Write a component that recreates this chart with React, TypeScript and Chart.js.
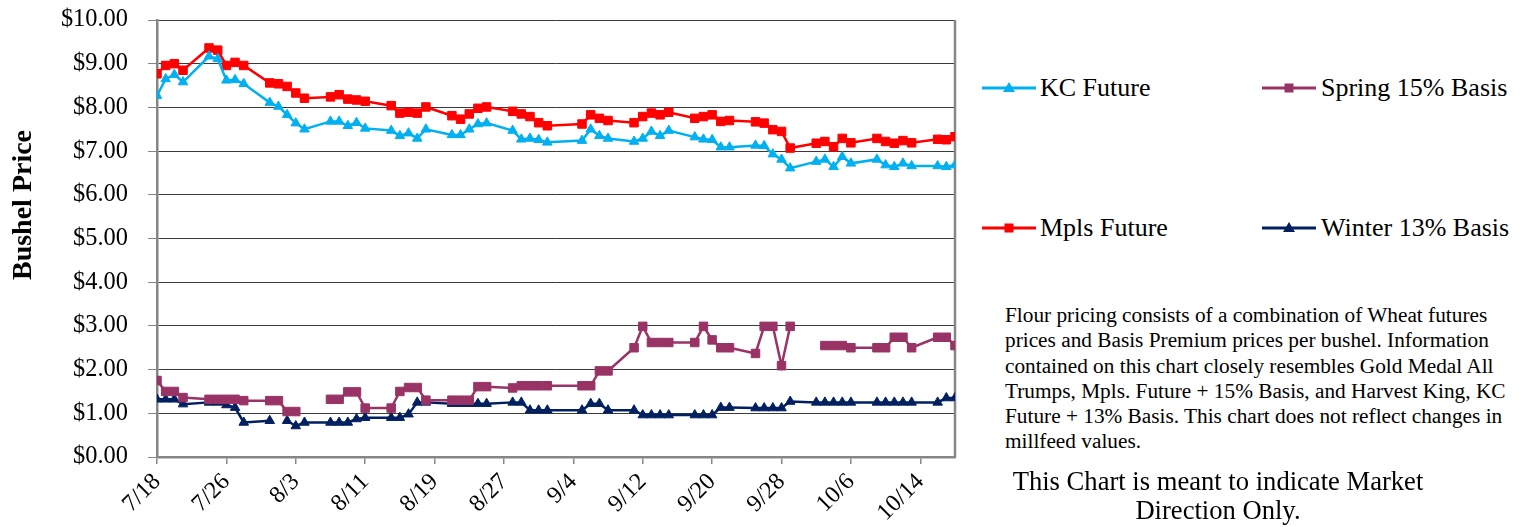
import React, { useEffect, useRef } from 'react';
import { Chart, registerables } from 'chart.js';

Chart.register(...registerables);

// ---------------- DATA ----------------
const YEAR = 2017;
const AXIS_START = '7/18';
const AXIS_END = '10/18';

const tickLabels = ['7/18', '7/26', '8/3', '8/11', '8/19', '8/27', '9/4', '9/12', '9/20', '9/28', '10/6', '10/14'];

const dates = [
  '7/18', '7/19', '7/20', '7/21',
  '7/24', '7/25', '7/26', '7/27', '7/28',
  '7/31', '8/1', '8/2', '8/3', '8/4',
  '8/7', '8/8', '8/9', '8/10', '8/11',
  '8/14', '8/15', '8/16', '8/17', '8/18',
  '8/21', '8/22', '8/23', '8/24', '8/25',
  '8/28', '8/29', '8/30', '8/31', '9/1',
  '9/5', '9/6', '9/7', '9/8',
  '9/11', '9/12', '9/13', '9/14', '9/15',
  '9/18', '9/19', '9/20', '9/21', '9/22',
  '9/25', '9/26', '9/27', '9/28', '9/29',
  '10/2', '10/3', '10/4', '10/5', '10/6',
  '10/9', '10/10', '10/11', '10/12', '10/13',
  '10/16', '10/17', '10/18',
];

const kcFuture = [
  8.27, 8.65, 8.75, 8.58,
  9.17, 9.11, 8.62, 8.63, 8.54,
  8.11, 8.02, 7.83, 7.64, 7.50,
  7.68, 7.68, 7.58, 7.65, 7.52,
  7.47, 7.35, 7.41, 7.29, 7.50,
  7.37, 7.37, 7.50, 7.62, 7.64,
  7.47, 7.27, 7.29, 7.26, 7.20,
  7.24, 7.50, 7.35, 7.29,
  7.22, 7.29, 7.45, 7.35, 7.47,
  7.32, 7.27, 7.26, 7.09, 7.09,
  7.13, 7.12, 6.93, 6.81, 6.61,
  6.76, 6.81, 6.64, 6.87, 6.72,
  6.81, 6.68, 6.64, 6.72, 6.66,
  6.66, 6.64, 6.68,
];

const mplsFuture = [
  8.77, 8.96, 9.00, 8.85,
  9.36, 9.31, 8.96, 9.03, 8.96,
  8.56, 8.54, 8.48, 8.33, 8.21,
  8.24, 8.29, 8.19, 8.17, 8.14,
  8.04, 7.87, 7.89, 7.87, 8.01,
  7.81, 7.73, 7.85, 7.98, 8.01,
  7.91, 7.85, 7.79, 7.65, 7.58,
  7.62, 7.83, 7.75, 7.70,
  7.65, 7.79, 7.87, 7.83, 7.89,
  7.75, 7.79, 7.83, 7.68, 7.70,
  7.67, 7.64, 7.49, 7.45, 7.07,
  7.18, 7.22, 7.10, 7.29, 7.19,
  7.29, 7.22, 7.18, 7.24, 7.19,
  7.27, 7.26, 7.33,
];

const spring15Basis = [
  1.75, 1.50, 1.50, 1.36,
  1.32, 1.32, 1.32, 1.32, 1.29,
  1.29, 1.29, 1.04, 1.04, null,
  1.32, 1.32, 1.49, 1.49, 1.12,
  1.12, 1.50, 1.59, 1.59, 1.30,
  1.30, 1.30, 1.30, 1.61, 1.61,
  1.58, 1.63, 1.63, 1.63, 1.63,
  1.63, 1.63, 1.97, 1.97,
  2.50, 2.99, 2.62, 2.62, 2.62,
  2.62, 2.99, 2.68, 2.50, 2.50,
  2.37, 2.99, 2.99, 2.09, 2.99,
  null, 2.55, 2.55, 2.55, 2.50,
  2.50, 2.50, 2.74, 2.74, 2.50,
  2.74, 2.74, 2.55,
];

const winter13Basis = [
  1.32, 1.32, 1.32, 1.21,
  1.25, 1.25, 1.19, 1.13, 0.79,
  0.83, null, 0.83, 0.71, 0.79,
  0.79, 0.79, 0.79, 0.87, 0.90,
  0.90, 0.90, 0.98, 1.25, 1.25,
  1.22, 1.22, 1.22, 1.22, 1.22,
  1.25, 1.25, 1.07, 1.07, 1.07,
  1.07, 1.22, 1.22, 1.07,
  1.07, 0.96, 0.96, 0.96, 0.96,
  0.96, 0.96, 0.96, 1.13, 1.13,
  1.12, 1.12, 1.12, 1.12, 1.27,
  1.25, 1.25, 1.25, 1.25, 1.25,
  1.25, 1.25, 1.25, 1.25, 1.25,
  1.25, 1.35, 1.35,
];

const yTickValues = [0, 1, 2, 3, 4, 5, 6, 7, 8, 9, 10];

const noteLines = [
  'Flour pricing consists of a combination of Wheat futures',
  'prices and Basis Premium prices per bushel. Information',
  'contained on this chart closely resembles Gold Medal All',
  'Trumps, Mpls. Future + 15% Basis, and Harvest King, KC',
  'Future + 13% Basis. This chart does not reflect changes in',
  'millfeed values.',
];
const disclaimerLines = ['This Chart is meant to indicate Market', 'Direction Only.'];
const yAxisTitle = 'Bushel Price';

// ---------------- STYLES ----------------
const SERIF = "'Liberation Serif', 'Times New Roman', Times, serif";

type Marker = 'triangle' | 'rect';
const series: { name: string; values: (number | null)[]; color: string; marker: Marker }[] = [
  { name: 'KC Future', values: kcFuture, color: '#00B0F0', marker: 'triangle' },
  { name: 'Spring 15% Basis', values: spring15Basis, color: '#993366', marker: 'rect' },
  { name: 'Mpls Future', values: mplsFuture, color: '#FF0000', marker: 'rect' },
  { name: 'Winter 13% Basis', values: winter13Basis, color: '#002060', marker: 'triangle' },
];

const legendLayout = [
  { lineX: 982, textX: 1040, y: 88 },
  { lineX: 1262, textX: 1321, y: 88 },
  { lineX: 982, textX: 1040, y: 228 },
  { lineX: 1262, textX: 1321, y: 228 },
];

function dayOffset(md: string): number {
  const [m, d] = md.split('/').map(Number);
  const [m0, d0] = AXIS_START.split('/').map(Number);
  return Math.round((Date.UTC(YEAR, m - 1, d) - Date.UTC(YEAR, m0 - 1, d0)) / 86400000);
}

const plotBorder = {
  id: 'plotBorder',
  beforeDatasetsDraw(chart: any) {
    const { ctx, chartArea: a } = chart;
    ctx.save();
    ctx.strokeStyle = '#868686';
    ctx.lineWidth = 2.5;
    ctx.beginPath();
    ctx.moveTo(a.right, a.top);
    ctx.lineTo(a.right, a.bottom + 1);
    ctx.stroke();
    ctx.restore();
  },
};

function LegendMarker({ color, marker }: { color: string; marker: Marker }) {
  return (
    <svg width="54" height="16" style={{ display: 'block' }}>
      <line x1="0" y1="8" x2="54" y2="8" stroke={color} strokeWidth="3" />
      {marker === 'rect' ? (
        <rect x={27 - 4.5} y={8 - 4.5} width="9" height="9" fill={color} />
      ) : (
        <polygon points="27,2 33,12 21,12" fill={color} />
      )}
    </svg>
  );
}

export default function App() {
  const canvasRef = useRef<HTMLCanvasElement>(null);

  useEffect(() => {
    if (!canvasRef.current) return;
    const labelByDay: Record<number, string> = {};
    tickLabels.forEach((t) => (labelByDay[dayOffset(t)] = t));

    const chart = new Chart(canvasRef.current, {
      type: 'line',
      data: {
        datasets: series.map((s) => ({
          label: s.name,
          data: dates.map((d, i) => ({ x: dayOffset(d), y: s.values[i] })),
          borderColor: s.color,
          backgroundColor: s.color,
          borderWidth: 2.5,
          pointStyle: s.marker,
          pointRadius: s.marker === 'rect' ? 6 : 5.5,
          pointBorderWidth: 1,
          pointBorderColor: s.color,
          pointBackgroundColor: s.color,
          tension: 0,
          spanGaps: false,
        })),
      },
      options: {
        responsive: false,
        maintainAspectRatio: false,
        animation: false,
        layout: { padding: { top: 20, right: 25, left: 0, bottom: 0 } },
        plugins: { legend: { display: false }, tooltip: { enabled: false } },
        scales: {
          x: {
            type: 'linear',
            min: dayOffset(AXIS_START),
            max: dayOffset(AXIS_END),
            afterBuildTicks: (scale: any) => {
              scale.ticks = tickLabels.map((t) => ({ value: dayOffset(t) }));
            },
            afterFit: (scale: any) => {
              scale.height = 70;
              scale.paddingLeft = 0;
              scale.paddingRight = 0;
            },
            ticks: {
              autoSkip: false,
              minRotation: 45,
              maxRotation: 45,
              padding: 4,
              color: '#000',
              font: { family: SERIF, size: 24 },
              callback: (v: any) => labelByDay[Number(v)] ?? '',
            },
            grid: { drawOnChartArea: false, drawTicks: true, tickLength: 7, color: '#868686', lineWidth: 1.5 },
            border: { color: '#868686', width: 2.5 },
          },
          y: {
            min: yTickValues[0],
            max: yTickValues[yTickValues.length - 1],
            afterBuildTicks: (scale: any) => {
              scale.ticks = yTickValues.map((v) => ({ value: v }));
            },
            afterFit: (scale: any) => {
              scale.width = 157;
              scale.paddingTop = 0;
              scale.paddingBottom = 0;
            },
            ticks: {
              padding: 20,
              color: '#000',
              font: { family: SERIF, size: 24.4 },
              callback: (v: any) => '$' + Number(v).toFixed(2),
            },
            grid: { color: '#3a3a3a', lineWidth: 1, tickColor: '#868686', tickLength: 9 },
            border: { color: '#868686', width: 2.5 },
          },
        },
      },
      plugins: [plotBorder],
    } as any);
    return () => chart.destroy();
  }, []);

  return (
    <div style={{ position: 'fixed', left: 0, top: 0, width: 1522, height: 527, background: '#fff', overflow: 'hidden' }}>
      <canvas ref={canvasRef} width={980} height={527} style={{ position: 'absolute', left: 0, top: 0, display: 'block' }} />
      <div
        style={{
          position: 'absolute',
          left: 22 - 150,
          top: 205 - 17,
          width: 300,
          height: 34,
          lineHeight: '34px',
          textAlign: 'center',
          transform: 'rotate(-90deg)',
          fontFamily: SERIF,
          fontWeight: 'bold',
          fontSize: 28,
          color: '#000',
          whiteSpace: 'nowrap',
        }}
      >
        {yAxisTitle}
      </div>
      {series.map((s, i) => (
        <React.Fragment key={s.name}>
          <div style={{ position: 'absolute', left: legendLayout[i].lineX, top: legendLayout[i].y - 8 }}>
            <LegendMarker color={s.color} marker={s.marker} />
          </div>
          <div
            style={{
              position: 'absolute',
              left: legendLayout[i].textX,
              top: legendLayout[i].y - 15,
              height: 30,
              lineHeight: '30px',
              fontFamily: SERIF,
              fontSize: 26,
              color: '#000',
              whiteSpace: 'nowrap',
            }}
          >
            {s.name}
          </div>
        </React.Fragment>
      ))}
      <div
        style={{
          position: 'absolute',
          left: 1005,
          top: 303,
          fontFamily: SERIF,
          fontSize: 21.3,
          lineHeight: '25.3px',
          color: '#000',
          whiteSpace: 'nowrap',
        }}
      >
        {noteLines.map((l) => (
          <div key={l}>{l}</div>
        ))}
      </div>
      <div
        style={{
          position: 'absolute',
          left: 1218 - 260,
          top: 467,
          width: 520,
          textAlign: 'center',
          fontFamily: SERIF,
          fontSize: 26.6,
          lineHeight: '29px',
          color: '#000',
          whiteSpace: 'nowrap',
        }}
      >
        {disclaimerLines.map((l) => (
          <div key={l}>{l}</div>
        ))}
      </div>
    </div>
  );
}
